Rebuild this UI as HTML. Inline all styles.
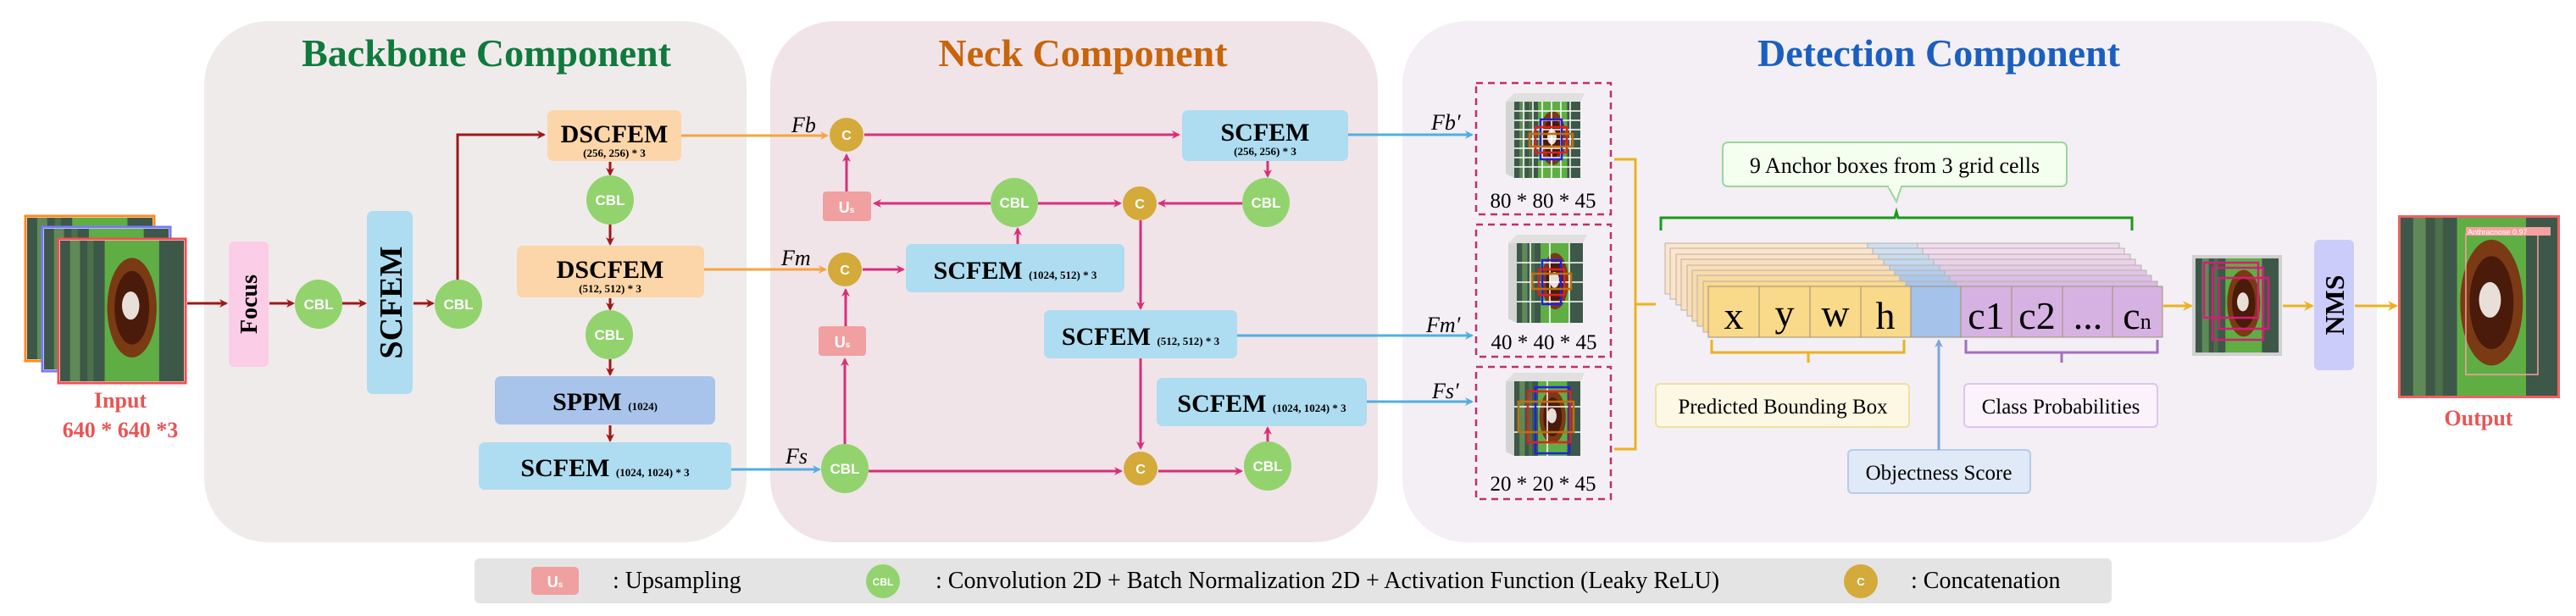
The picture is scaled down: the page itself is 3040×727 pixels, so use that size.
<!DOCTYPE html>
<html><head><meta charset="utf-8"><style>
html,body{margin:0;padding:0;background:#fff;}
svg{display:block;}
text{font-family:"Liberation Serif",serif;}
text.sans{font-family:"Liberation Sans",sans-serif;}
</style></head><body>
<svg width="3040" height="727" viewBox="0 0 3040 727" xmlns="http://www.w3.org/2000/svg">
<defs>
<marker id="mr" markerWidth="10" markerHeight="10" refX="8" refY="5" orient="auto" markerUnits="userSpaceOnUse"><path d="M0,0 L10,5 L0,10 L3,5z" fill="#a01818"/></marker>
<marker id="mm" markerWidth="10" markerHeight="10" refX="8" refY="5" orient="auto" markerUnits="userSpaceOnUse"><path d="M0,0 L10,5 L0,10 L3,5z" fill="#d6307a"/></marker>
<marker id="mo" markerWidth="10" markerHeight="10" refX="8" refY="5" orient="auto" markerUnits="userSpaceOnUse"><path d="M0,0 L10,5 L0,10 L3,5z" fill="#f5a540"/></marker>
<marker id="mb" markerWidth="10" markerHeight="10" refX="8" refY="5" orient="auto" markerUnits="userSpaceOnUse"><path d="M0,0 L10,5 L0,10 L3,5z" fill="#4fb0e0"/></marker>
<marker id="my" markerWidth="12" markerHeight="12" refX="10" refY="6" orient="auto" markerUnits="userSpaceOnUse"><path d="M0,0 L12,6 L0,12 L4,6z" fill="#ecb21e"/></marker>
<marker id="mlb" markerWidth="10" markerHeight="10" refX="8" refY="5" orient="auto" markerUnits="userSpaceOnUse"><path d="M0,0 L10,5 L0,10 L3,5z" fill="#7aa6e0"/></marker>
<symbol id="leaf" viewBox="0 0 100 130" preserveAspectRatio="none">
<rect width="100" height="130" fill="#3d5848"/>
<rect x="8" width="8" height="130" fill="#5f8a58"/>
<rect x="22" width="5" height="130" fill="#4c7048"/>
<rect x="36" width="44" height="130" fill="#5fae44"/>
<ellipse cx="58" cy="62" rx="20" ry="46" fill="#7a3a14"/>
<ellipse cx="58" cy="62" rx="14" ry="34" fill="#4a1a0a"/>
<ellipse cx="57" cy="60" rx="7" ry="13" fill="#e8e0d8"/>
</symbol>
</defs>

<rect x="241" y="25" width="640" height="615" rx="75" fill="#f0ebeb"/>
<rect x="909" y="25" width="717" height="615" rx="75" fill="#f1e4e9"/>
<rect x="1655" y="25" width="1150" height="615" rx="75" fill="#f3eff5"/>
<text x="574" y="78" font-size="46" font-weight="bold" fill="#0e7a3c" text-anchor="middle">Backbone Component</text>
<text x="1278" y="78" font-size="46" font-weight="bold" fill="#c8640a" text-anchor="middle">Neck Component</text>
<text x="2288" y="78" font-size="46" font-weight="bold" fill="#1a5fbf" text-anchor="middle">Detection Component</text>

<rect x="30" y="255" width="152" height="171" fill="#fff" stroke="#ff8a1a" stroke-width="3"/>
<use href="#leaf" x="32" y="257" width="148" height="167"/>
<rect x="50" y="268" width="151" height="170" fill="#fff" stroke="#7878ff" stroke-width="3"/>
<use href="#leaf" x="52" y="270" width="147" height="166"/>
<rect x="69" y="282" width="150" height="170" fill="#fff" stroke="#f05050" stroke-width="3"/>
<use href="#leaf" x="71" y="284" width="146" height="166"/>
<text x="142" y="481" font-size="26" font-weight="bold" fill="#e85555" text-anchor="middle">Input</text>
<text x="142" y="516" font-size="26" font-weight="bold" fill="#e85555" text-anchor="middle">640 * 640 *3</text>

<g stroke="#a01818" stroke-width="3" fill="none">
<line x1="221" y1="358" x2="267" y2="358" marker-end="url(#mr)"/>
<line x1="318" y1="358" x2="346" y2="358" marker-end="url(#mr)"/>
<line x1="404" y1="358" x2="431" y2="358" marker-end="url(#mr)"/>
<line x1="488" y1="358" x2="511" y2="358" marker-end="url(#mr)"/>
<polyline points="540,331 540,159 642,159" marker-end="url(#mr)"/>
<line x1="720" y1="191" x2="720" y2="206" marker-end="url(#mr)"/>
<line x1="720" y1="265" x2="720" y2="288" marker-end="url(#mr)"/>
<line x1="720" y1="352" x2="720" y2="365" marker-end="url(#mr)"/>
<line x1="720" y1="424" x2="720" y2="442" marker-end="url(#mr)"/>
<line x1="720" y1="502" x2="720" y2="520" marker-end="url(#mr)"/>
</g>
<rect x="270" y="285" width="47" height="148" rx="6" fill="#fccde6"/>
<text transform="translate(303,359) rotate(-90)" font-size="28" font-weight="bold" text-anchor="middle">Focus</text>
<rect x="433" y="249" width="54" height="216" rx="7" fill="#aedcf0"/>
<text transform="translate(474,357) rotate(-90)" font-size="38" font-weight="bold" text-anchor="middle">SCFEM</text>
<rect x="646" y="130" width="158" height="60" rx="7" fill="#fcd5a8"/>
<text x="725" y="168" font-size="30" font-weight="bold" text-anchor="middle">DSCFEM</text>
<text x="725" y="185" font-size="13" font-weight="bold" text-anchor="middle">(256, 256) * 3</text>
<rect x="610" y="290" width="221" height="61" rx="7" fill="#fcd5a8"/>
<text x="720" y="328" font-size="30" font-weight="bold" text-anchor="middle">DSCFEM</text>
<text x="720" y="345" font-size="13" font-weight="bold" text-anchor="middle">(512, 512) * 3</text>
<rect x="584" y="444" width="260" height="57" rx="7" fill="#a8c4ea"/>
<text x="714" y="484" font-size="30" font-weight="bold" text-anchor="middle">SPPM <tspan font-size="13">(1024)</tspan></text>
<rect x="565" y="522" width="298" height="56" rx="7" fill="#aedcf0"/>
<text x="714" y="562" font-size="30" font-weight="bold" text-anchor="middle">SCFEM <tspan font-size="13">(1024, 1024) * 3</tspan></text>

<g fill="#92d36e">
<ellipse cx="376" cy="359" rx="28" ry="29"/><ellipse cx="541" cy="359" rx="28" ry="29"/>
<ellipse cx="720" cy="236" rx="28" ry="29"/><ellipse cx="719" cy="395" rx="28" ry="29"/>
<ellipse cx="1197" cy="239" rx="28" ry="29"/><ellipse cx="1494" cy="239" rx="28" ry="29"/>
<ellipse cx="997" cy="553" rx="28" ry="29"/><ellipse cx="1496" cy="550" rx="28" ry="29"/>
</g>
<g fill="#fff" font-size="17" font-weight="bold" text-anchor="middle">
<text class="sans" x="376" y="365">CBL</text><text class="sans" x="541" y="365">CBL</text>
<text class="sans" x="720" y="242">CBL</text><text class="sans" x="719" y="401">CBL</text>
<text class="sans" x="1197" y="245">CBL</text><text class="sans" x="1494" y="245">CBL</text>
<text class="sans" x="997" y="559">CBL</text><text class="sans" x="1496" y="556">CBL</text>
</g>

<g fill="none" stroke-width="3">
<line x1="804" y1="160" x2="976" y2="160" stroke="#f5a540" marker-end="url(#mo)"/>
<line x1="831" y1="318" x2="974" y2="318" stroke="#f5a540" marker-end="url(#mo)"/>
<line x1="863" y1="554" x2="967" y2="554" stroke="#4fb0e0" marker-end="url(#mb)"/>
</g>
<g font-size="26" font-style="italic">
<text x="934" y="156">Fb</text><text x="922" y="313">Fm</text><text x="927" y="547">Fs</text>
<text x="1689" y="153">Fb′</text><text x="1683" y="392">Fm′</text><text x="1690" y="470">Fs′</text>
</g>

<g fill="none" stroke="#d6307a" stroke-width="3">
<line x1="1020" y1="159" x2="1391" y2="159" marker-end="url(#mm)"/>
<line x1="999" y1="226" x2="999" y2="183" marker-end="url(#mm)"/>
<line x1="1169" y1="240" x2="1032" y2="240" marker-end="url(#mm)"/>
<line x1="1225" y1="240" x2="1322" y2="240" marker-end="url(#mm)"/>
<line x1="1466" y1="240" x2="1368" y2="240" marker-end="url(#mm)"/>
<line x1="1496" y1="190" x2="1496" y2="208" marker-end="url(#mm)"/>
<line x1="1201" y1="288" x2="1201" y2="270" marker-end="url(#mm)"/>
<line x1="1018" y1="318" x2="1066" y2="318" marker-end="url(#mm)"/>
<line x1="1346" y1="260" x2="1346" y2="364" marker-end="url(#mm)"/>
<line x1="998" y1="385" x2="998" y2="342" marker-end="url(#mm)"/>
<line x1="997" y1="524" x2="997" y2="424" marker-end="url(#mm)"/>
<line x1="1346" y1="423" x2="1346" y2="529" marker-end="url(#mm)"/>
<line x1="1025" y1="556" x2="1323" y2="556" marker-end="url(#mm)"/>
<line x1="1367" y1="556" x2="1465" y2="556" marker-end="url(#mm)"/>
<line x1="1496" y1="521" x2="1496" y2="505" marker-end="url(#mm)"/>
</g>
<rect x="971" y="226" width="57" height="35" rx="4" fill="#f0a0a0"/>
<text class="sans" x="999" y="251" font-size="18" font-weight="bold" fill="#fff" text-anchor="middle">U<tspan font-size="10">s</tspan></text>
<rect x="966" y="385" width="56" height="35" rx="4" fill="#f0a0a0"/>
<text class="sans" x="994" y="410" font-size="18" font-weight="bold" fill="#fff" text-anchor="middle">U<tspan font-size="10">s</tspan></text>
<g fill="#d4aa3a"><circle cx="999" cy="159" r="20"/><circle cx="1345" cy="240" r="20"/><circle cx="997" cy="318" r="20"/><circle cx="1346" cy="553" r="20"/></g>
<g fill="#fff" font-size="16" font-weight="bold" text-anchor="middle">
<text class="sans" x="999" y="165">C</text><text class="sans" x="1345" y="246">C</text><text class="sans" x="997" y="324">C</text><text class="sans" x="1346" y="559">C</text></g>
<rect x="1395" y="130" width="196" height="60" rx="7" fill="#aedcf0"/>
<text x="1493" y="166" font-size="30" font-weight="bold" text-anchor="middle">SCFEM</text>
<text x="1493" y="183" font-size="13" font-weight="bold" text-anchor="middle">(256, 256) * 3</text>
<rect x="1069" y="288" width="258" height="57" rx="7" fill="#aedcf0"/>
<text x="1198" y="329" font-size="30" font-weight="bold" text-anchor="middle">SCFEM <tspan font-size="13">(1024, 512) * 3</tspan></text>
<rect x="1232" y="366" width="228" height="57" rx="7" fill="#aedcf0"/>
<text x="1346" y="407" font-size="30" font-weight="bold" text-anchor="middle">SCFEM <tspan font-size="13">(512, 512) * 3</tspan></text>
<rect x="1365" y="446" width="248" height="57" rx="7" fill="#aedcf0"/>
<text x="1489" y="486" font-size="30" font-weight="bold" text-anchor="middle">SCFEM <tspan font-size="13">(1024, 1024) * 3</tspan></text>
<g fill="none" stroke="#4fb0e0" stroke-width="3">
<line x1="1591" y1="159" x2="1737" y2="159" marker-end="url(#mb)"/>
<line x1="1460" y1="396" x2="1737" y2="396" marker-end="url(#mb)"/>
<line x1="1613" y1="474" x2="1737" y2="474" marker-end="url(#mb)"/>
</g>

<g fill="none" stroke="#c0306a" stroke-width="2.5" stroke-dasharray="8,6">
<rect x="1742" y="98" width="159" height="155"/>
<rect x="1742" y="265" width="159" height="156"/>
<rect x="1742" y="433" width="159" height="156"/>
</g>
<g>
<polygon points="1777,120 1787,110 1870,110 1865,120" fill="#e0e0e0"/><polygon points="1777,120 1787,120 1787,210 1777,205" fill="#d4d4d4"/>
<use href="#leaf" x="1787" y="120" width="78" height="90"/>
<polygon points="1780,287 1790,277 1873,277 1868,287" fill="#e0e0e0"/><polygon points="1780,287 1790,287 1790,381 1780,376" fill="#d4d4d4"/>
<use href="#leaf" x="1790" y="287" width="78" height="94"/>
<polygon points="1777,450 1787,440 1870,440 1865,450" fill="#e0e0e0"/><polygon points="1777,450 1787,450 1787,538 1777,533" fill="#d4d4d4"/>
<use href="#leaf" x="1787" y="450" width="78" height="88"/>
<g stroke="#fff" stroke-width="1.5">
<path d="M1798,120V210M1809,120V210M1820,120V210M1831,120V210M1842,120V210M1853,120V210M1787,131H1865M1787,142H1865M1787,153H1865M1787,164H1865M1787,175H1865M1787,186H1865M1787,197H1865"/>
<path d="M1806,287V381M1829,287V381M1852,287V381M1790,310H1868M1790,333H1868M1790,356H1868"/>
<path d="M1826,450V538M1787,480H1865M1787,510H1865"/>
</g>
<g fill="none" stroke-width="2.5">
<rect x="1818" y="141" width="25" height="47" stroke="#2020e0"/><rect x="1812" y="150" width="37" height="30" stroke="#e02020"/><rect x="1805" y="158" width="51" height="15" stroke="#c07010"/>
<rect x="1820" y="307" width="22" height="52" stroke="#2020e0"/><rect x="1816" y="318" width="30" height="30" stroke="#e02020"/><rect x="1808" y="323" width="46" height="18" stroke="#c07010"/>
<rect x="1812" y="457" width="40" height="78" stroke="#2020e0"/><rect x="1803" y="462" width="50" height="60" stroke="#e02020"/><rect x="1792" y="474" width="65" height="36" stroke="#c07010"/>
</g>
</g>
<g font-size="25" text-anchor="middle">
<text x="1821" y="245">80 * 80 * 45</text><text x="1822" y="412">40 * 40 * 45</text><text x="1821" y="579">20 * 20 * 45</text>
</g>
<path d="M1905,188 H1930 V530 H1905 M1930,359 H1954" fill="none" stroke="#ecb21e" stroke-width="3"/>

<path d="M1960,272 V257 H2236 L2238,250 L2240,257 H2516 V272" fill="none" stroke="#1a9a1a" stroke-width="3"/>
<rect x="2033" y="168" width="406" height="52" rx="6" fill="#f4fff0" stroke="#9ad89a" stroke-width="2"/>
<path d="M2228,220 L2238,238 L2244,220" fill="#f4fff0" stroke="#9ad89a" stroke-width="2"/>
<rect x="2229" y="218" width="14" height="4" fill="#f4fff0"/>
<text x="2236" y="204" font-size="26" text-anchor="middle">9 Anchor boxes from 3 grid cells</text>

<g stroke="#b8b0a8" stroke-width="1">
<g transform="translate(-51,-51)"><rect x="2016" y="338" width="239" height="60" fill="#fbe6cc"/><rect x="2255" y="338" width="59" height="60" fill="#cfe0f2"/><rect x="2314" y="338" width="238" height="60" fill="#f0dcef"/></g>
<g transform="translate(-45,-45)"><rect x="2016" y="338" width="239" height="60" fill="#fbe6cc"/><rect x="2255" y="338" width="59" height="60" fill="#cfe0f2"/><rect x="2314" y="338" width="238" height="60" fill="#f0dcef"/></g>
<g transform="translate(-38,-38)"><rect x="2016" y="338" width="239" height="60" fill="#fbe2c6"/><rect x="2255" y="338" width="59" height="60" fill="#c8dcf0"/><rect x="2314" y="338" width="238" height="60" fill="#ecd6ec"/></g>
<g transform="translate(-32,-32)"><rect x="2016" y="338" width="239" height="60" fill="#fbe0c0"/><rect x="2255" y="338" width="59" height="60" fill="#c4d8f0"/><rect x="2314" y="338" width="238" height="60" fill="#e8d2ea"/></g>
<g transform="translate(-25,-25)"><rect x="2016" y="338" width="239" height="60" fill="#fadeb8"/><rect x="2255" y="338" width="59" height="60" fill="#bcd2ee"/><rect x="2314" y="338" width="238" height="60" fill="#e4cce8"/></g>
<g transform="translate(-19,-19)"><rect x="2016" y="338" width="239" height="60" fill="#f9dcae"/><rect x="2255" y="338" width="59" height="60" fill="#b4ccec"/><rect x="2314" y="338" width="238" height="60" fill="#e0c6e6"/></g>
<g transform="translate(-13,-13)"><rect x="2016" y="338" width="239" height="60" fill="#f9daa0"/><rect x="2255" y="338" width="59" height="60" fill="#acc8ea"/><rect x="2314" y="338" width="238" height="60" fill="#dcc0e4"/></g>
<g transform="translate(-6,-6)"><rect x="2016" y="338" width="239" height="60" fill="#f9d994"/><rect x="2255" y="338" width="59" height="60" fill="#a8c4ea"/><rect x="2314" y="338" width="238" height="60" fill="#d8bae4"/></g>
</g>
<g stroke="#a09070" stroke-width="1">
<rect x="2016" y="338" width="60" height="60" fill="#f9d98a"/><rect x="2076" y="338" width="60" height="60" fill="#f9d98a"/><rect x="2136" y="338" width="60" height="60" fill="#f9d98a"/><rect x="2196" y="338" width="59" height="60" fill="#f9d98a"/>
<rect x="2255" y="338" width="59" height="60" fill="#a4c2ea"/>
<rect x="2314" y="338" width="60" height="60" fill="#d6b2e2"/><rect x="2374" y="338" width="60" height="60" fill="#d6b2e2"/><rect x="2434" y="338" width="59" height="60" fill="#d6b2e2"/><rect x="2493" y="338" width="59" height="60" fill="#d6b2e2"/>
</g>
<g font-size="46" text-anchor="middle">
<text x="2046" y="388">x</text><text x="2106" y="385">y</text><text x="2166" y="385">w</text><text x="2225" y="388">h</text>
<text x="2344" y="388">c1</text><text x="2404" y="388">c2</text><text x="2464" y="388">...</text><text x="2522" y="388">c<tspan font-size="26">n</tspan></text>
</g>
<path d="M2020,401 V416 H2247 V401 M2134,416 V428" fill="none" stroke="#ecb21e" stroke-width="3"/>
<path d="M2320,401 V416 H2546 V401 M2433,416 V428" fill="none" stroke="#a070c0" stroke-width="3"/>
<rect x="1954" y="453" width="299" height="51" rx="5" fill="#fdf8e4" stroke="#f0e0a0" stroke-width="2"/>
<text x="2104" y="488" font-size="25" text-anchor="middle">Predicted Bounding Box</text>
<rect x="2318" y="453" width="228" height="51" rx="5" fill="#fbf3fb" stroke="#dcc6ec" stroke-width="2"/>
<text x="2432" y="488" font-size="25" text-anchor="middle">Class Probabilities</text>
<rect x="2181" y="531" width="215" height="51" rx="5" fill="#dfe9f7" stroke="#b8cce8" stroke-width="2"/>
<text x="2288" y="566" font-size="25" text-anchor="middle">Objectness Score</text>
<line x1="2288" y1="531" x2="2288" y2="402" stroke="#7aa6e0" stroke-width="3" marker-end="url(#mlb)"/>

<g stroke="#ecb21e" stroke-width="3" fill="none">
<line x1="2553" y1="361" x2="2586" y2="361" marker-end="url(#my)"/>
<line x1="2694" y1="361" x2="2729" y2="361" marker-end="url(#my)"/>
<line x1="2779" y1="361" x2="2828" y2="361" marker-end="url(#my)"/>
</g>
<rect x="2587" y="301" width="106" height="119" fill="#d0d0d0"/>
<use href="#leaf" x="2591" y="305" width="98" height="111"/>
<g fill="none" stroke="#d81a78" stroke-width="2.5"><rect x="2601" y="310" width="64" height="65"/><rect x="2611" y="316" width="60" height="85"/><rect x="2619" y="328" width="58" height="60"/></g>
<rect x="2731" y="283" width="47" height="154" rx="6" fill="#ccccfa"/>
<text transform="translate(2766,360) rotate(-90)" font-size="32" font-weight="bold" text-anchor="middle">NMS</text>
<rect x="2830" y="254" width="191" height="216" fill="#f06060"/>
<use href="#leaf" x="2833" y="257" width="185" height="210"/>
<rect x="2910" y="276" width="85" height="166" fill="none" stroke="#f6a0a0" stroke-width="1.5"/>
<rect x="2910" y="268" width="100" height="10" fill="#f6a0a0"/>
<text class="sans" x="2912" y="277" font-size="9" fill="#fff">Anthracnose 0.97</text>
<text x="2925" y="502" font-size="26" font-weight="bold" fill="#e85555" text-anchor="middle">Output</text>

<rect x="560" y="659" width="1932" height="53" rx="6" fill="#e4e4e4"/>
<rect x="627" y="669" width="56" height="33" rx="5" fill="#f0a0a0"/>
<text class="sans" x="655" y="693" font-size="18" font-weight="bold" fill="#fff" text-anchor="middle">U<tspan font-size="10">s</tspan></text>
<text x="723" y="694" font-size="28">: Upsampling</text>
<ellipse cx="1042" cy="686" rx="20" ry="20" fill="#92d36e"/>
<text class="sans" x="1042" y="691" font-size="12" font-weight="bold" fill="#fff" text-anchor="middle">CBL</text>
<text x="1104" y="694" font-size="28">: Convolution 2D + Batch Normalization 2D + Activation Function (Leaky ReLU)</text>
<circle cx="2196" cy="686" r="20" fill="#d4aa3a"/>
<text class="sans" x="2196" y="691" font-size="13" font-weight="bold" fill="#fff" text-anchor="middle">C</text>
<text x="2255" y="694" font-size="28">: Concatenation</text>
</svg>
</body></html>
